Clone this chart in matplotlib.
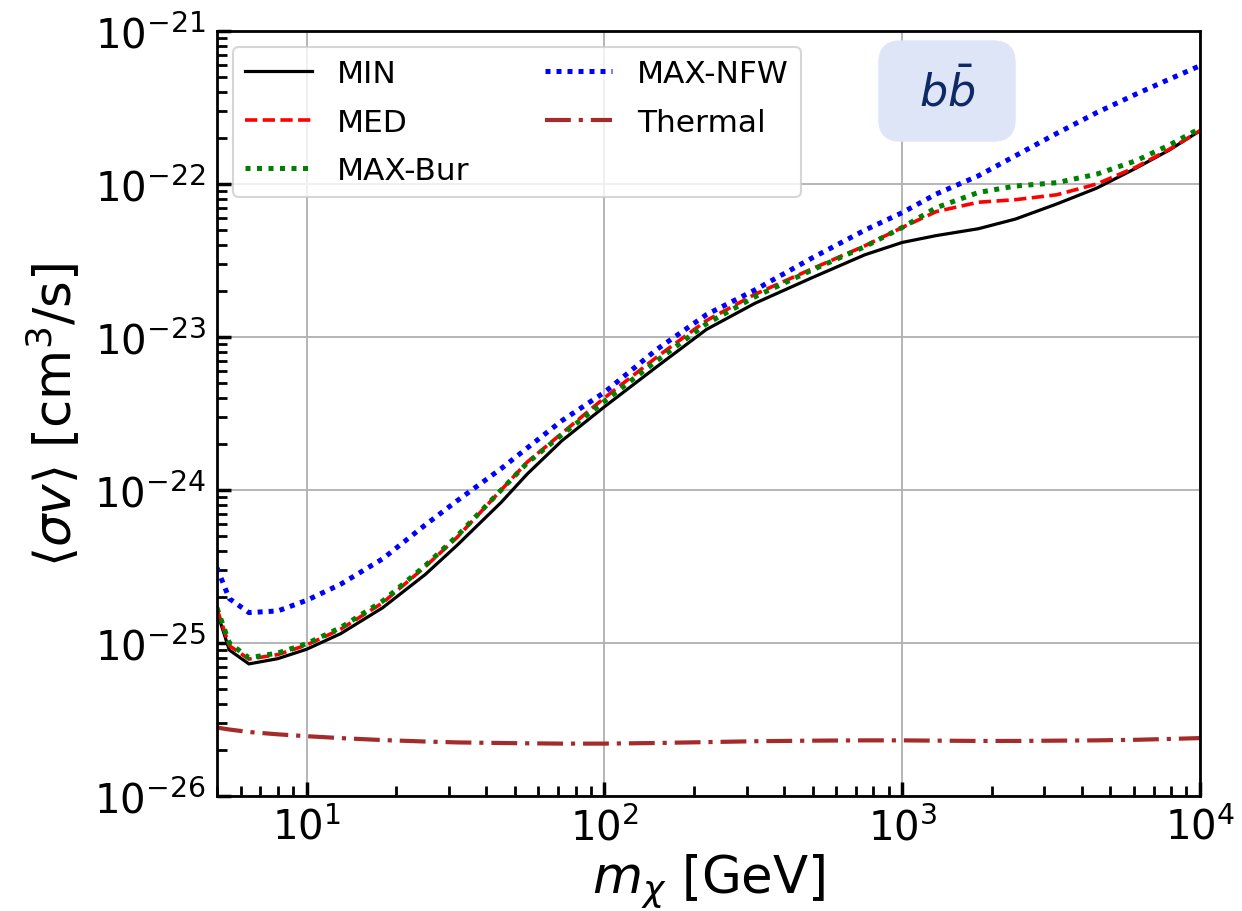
import numpy as np
import matplotlib
matplotlib.use("Agg")
import matplotlib.pyplot as plt
from matplotlib.patches import FancyBboxPatch

# Dark-matter mass grid [GeV]
mass = [5, 5.5, 6.4, 8, 10, 13, 18, 25, 32, 45, 55, 72, 100, 150, 220, 320,
        500, 750, 1000, 1300, 1800, 2400, 3300, 4500, 6100, 7900, 10000]

# Upper limits on <sigma v> [cm^3/s] for each J-factor choice (b bbar channel)
sv_min = [1.6e-25, 9.0e-26, 7.3e-26, 7.9e-26, 9.1e-26, 1.15e-25, 1.7e-25, 2.8e-25,
          4.35e-25, 8.3e-25, 1.27e-24, 2.1e-24, 3.5e-24, 6.4e-24, 1.12e-23, 1.66e-23,
          2.45e-23, 3.45e-23, 4.15e-23, 4.6e-23, 5.1e-23, 5.9e-23, 7.4e-23, 9.4e-23,
          1.27e-22, 1.67e-22, 2.23e-22]
sv_med = [1.67e-25, 9.6e-26, 7.85e-26, 8.4e-26, 9.7e-26, 1.23e-25, 1.83e-25, 3.15e-25,
          4.9e-25, 1.0e-24, 1.52e-24, 2.35e-24, 4.0e-24, 7.4e-24, 1.28e-23, 1.9e-23,
          2.8e-23, 3.95e-23, 5.2e-23, 6.6e-23, 7.6e-23, 7.9e-23, 8.5e-23, 1.0e-22,
          1.29e-22, 1.69e-22, 2.23e-22]
sv_max_bur = [1.7e-25, 1.0e-25, 8.0e-26, 8.6e-26, 9.9e-26, 1.26e-25, 1.88e-25, 3.2e-25,
              5.0e-25, 1.0e-24, 1.5e-24, 2.3e-24, 3.8e-24, 7.0e-24, 1.22e-23, 1.83e-23,
              2.75e-23, 3.9e-23, 5.2e-23, 7.0e-23, 8.8e-23, 9.7e-23, 1.02e-22, 1.16e-22,
              1.42e-22, 1.8e-22, 2.31e-22]
sv_max_nfw = [3.1e-25, 1.95e-25, 1.58e-25, 1.62e-25, 1.9e-25, 2.42e-25, 3.55e-25, 5.9e-25,
              8.5e-25, 1.38e-24, 1.88e-24, 2.84e-24, 4.35e-24, 8.3e-24, 1.4e-23, 2.03e-23,
              3.3e-23, 5.0e-23, 6.5e-23, 8.6e-23, 1.13e-22, 1.53e-22, 2.14e-22, 2.93e-22,
              3.87e-22, 4.85e-22, 5.93e-22]
sv_thermal = [2.8e-26, 2.72e-26, 2.62e-26, 2.53e-26, 2.46e-26, 2.39e-26, 2.32e-26, 2.27e-26,
              2.24e-26, 2.22e-26, 2.21e-26, 2.2e-26, 2.2e-26, 2.22e-26, 2.25e-26, 2.28e-26,
              2.3e-26, 2.31e-26, 2.31e-26, 2.3e-26, 2.29e-26, 2.29e-26, 2.3e-26, 2.31e-26,
              2.33e-26, 2.36e-26, 2.39e-26]

plt.rcParams['font.family'] = ['DejaVu Sans']
plt.rcParams['mathtext.fontset'] = 'dejavusans'

fig = plt.figure(figsize=(12.42, 9.12), dpi=100)
ax = fig.add_axes([0.1747, 0.1261, 0.9662 - 0.1747, 0.9649 - 0.1261])

ax.plot(mass, sv_min, color='black', lw=2.3, ls='-', label='MIN')
ax.plot(mass, sv_med, color='red', lw=2.6, ls=(0, (3.4, 1.5)), label='MED')
ax.plot(mass, sv_max_bur, color='green', lw=3.6, ls=(0, (1, 1.3)), label='MAX-Bur')
ax.plot(mass, sv_max_nfw, color='blue', lw=3.6, ls=(0, (1, 1.2)), label='MAX-NFW')
ax.plot(mass, sv_thermal, color='brown', lw=3.0, ls=(0, (6.2, 1.9, 1, 1.9)), label='Thermal')

ax.set_xscale('log')
ax.set_yscale('log')
ax.set_xlim(5, 1e4)
ax.set_ylim(1e-26, 1e-21)

ax.grid(True, which='major', color='#b0b0b0', lw=1.3)
ax.tick_params(which='major', direction='in', length=10, width=2.5, labelsize=29, pad=8)
ax.tick_params(which='minor', direction='in', length=7, width=2.0)
for s in ax.spines.values():
    s.set_linewidth(2.0)

ax.set_xlabel(r'$m_\chi$ [GeV]', fontsize=37, labelpad=2)
ax.set_ylabel(r'$\langle\sigma v\rangle$ [cm$^3$/s]', fontsize=37, labelpad=8)

leg = ax.legend(loc='upper left', ncol=2, fontsize=22.5, frameon=True,
                handlelength=2.15, handletextpad=0.8, labelspacing=0.62,
                columnspacing=2.4, borderaxespad=0.5, borderpad=0.4)
leg.get_frame().set_linewidth(1.5)

# Channel tag in a rounded box
ax.add_patch(FancyBboxPatch((0.6734, 0.8562), 0.8118 - 0.6734, 0.9869 - 0.8562,
                            boxstyle='round,pad=0,rounding_size=0.022',
                            transform=ax.transAxes, fc='#dee5f6', ec='#dee5f6',
                            zorder=4, mutation_aspect=983 / 765))
ax.text(0.7426, 0.9216, r'$b\bar{b}$', transform=ax.transAxes, fontsize=32,
        color='#0d2a66', ha='center', va='center', zorder=5)

fig.savefig('out.png', dpi=100)
